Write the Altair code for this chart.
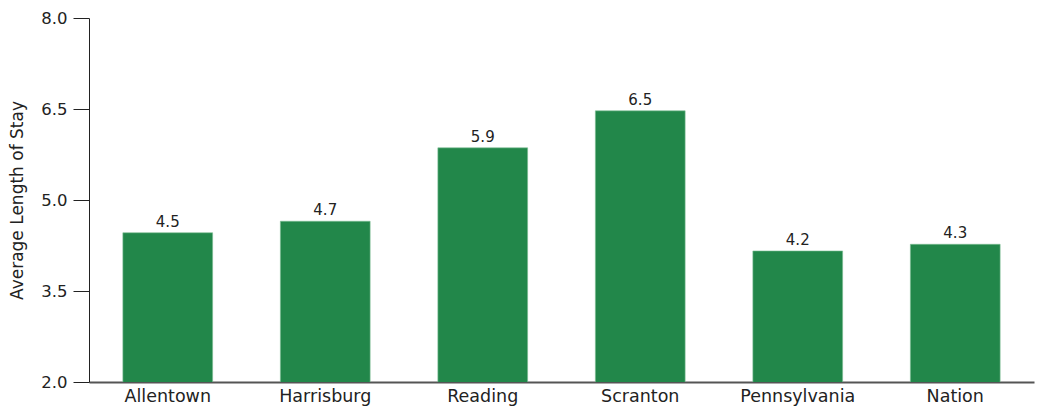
import altair as alt
import pandas as pd

categories = ["Allentown", "Harrisburg", "Reading", "Scranton", "Pennsylvania", "Nation"]
values = [4.46, 4.65, 5.86, 6.47, 4.16, 4.27]

df = pd.DataFrame({"region": categories, "stay": values})

FONT = "DejaVu Sans"

x = alt.X("region:N", sort=categories, title=None,
          scale=alt.Scale(paddingInner=0.43, paddingOuter=0.215),
          axis=alt.Axis(labelAngle=0, labelFontSize=17.5, labelColor="#222",
                        labelFont=FONT, ticks=False, domainColor="#555",
                        domainWidth=2, labelPadding=5))
y = alt.Y("stay:Q", title="Average Length of Stay",
          scale=alt.Scale(domain=[2, 8], nice=False, zero=False),
          axis=alt.Axis(values=[2.0, 3.5, 5.0, 6.5, 8.0], format=".1f",
                        labelFontSize=16.5, labelColor="#222", labelFont=FONT,
                        tickSize=16, tickColor="#222", domainColor="#222",
                        grid=False, titleFontSize=17, titleFont=FONT,
                        titleFontWeight="normal", titleColor="#222",
                        labelPadding=6, titlePadding=14))

bars = alt.Chart(df).mark_bar(color="#22874A", stroke="#7fbf95", strokeWidth=0.6,
                              clip=True).encode(x=x, y=y)
text = alt.Chart(df).mark_text(dy=-11, fontSize=15, font=FONT, color="#222").encode(
    x=alt.X("region:N", sort=categories), y="stay:Q", text=alt.Text("stay:Q", format=".1f"))

chart = (bars + text).properties(
    width=945, height=364,
    autosize=alt.AutoSizeParams(type="none"),
    padding={"left": 89, "top": 18, "right": 3, "bottom": 26},
).configure_view(stroke=None)

chart.save("out.html", embed_options={"renderer": "svg", "actions": False})
